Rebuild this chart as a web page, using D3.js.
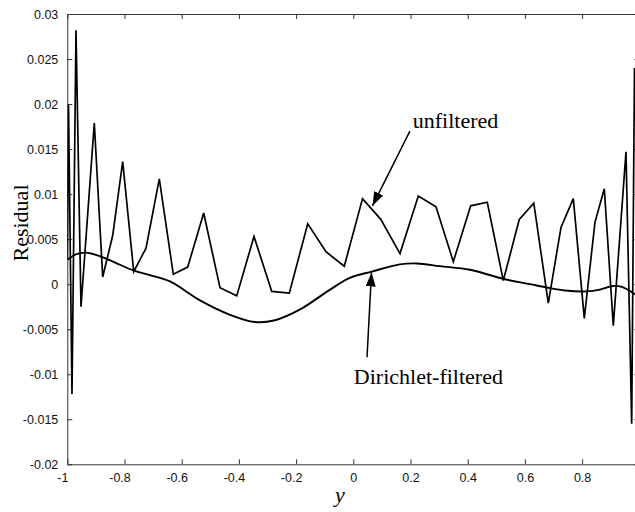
<!DOCTYPE html>
<html>
<head>
<meta charset="utf-8">
<script src="https://cdn.jsdelivr.net/npm/d3@7"></script>
<style>
    html, body { margin: 0; padding: 0; background: #fff; }
    svg { display: block; overflow: hidden; }
    .tick text { font-family: "Liberation Sans", Arial, sans-serif; font-size: 12.5px; fill: #111; }
    .serif { font-family: "Liberation Serif", "Times New Roman", serif; font-size: 22px; fill: #000; }
</style>
</head>
<body>
<div id="viz"></div>
<script>

// unfiltered residual
var unfilteredX = [-1.000, -0.9958, -0.9836, -0.9696, -0.9521, -0.9056, -0.8762, -0.8413, -0.8063, -0.7678,
    -0.7248, -0.6783, -0.6294, -0.5790, -0.5231, -0.4661, -0.4077, -0.3472, -0.2853, -0.2238,
    -0.1594, -0.0955, -0.0315, 0.0322, 0.0962, 0.1633, 0.2273, 0.2892, 0.3497, 0.4105,
    0.4685, 0.5245, 0.5804, 0.6311, 0.6818, 0.7262, 0.7692, 0.8077, 0.8451, 0.8776,
    0.9091, 0.9535, 0.9734, 0.9832, 1.000];
var unfilteredY = [0.0028, 0.0200, -0.0122, 0.0282, -0.0025, 0.0179, 0.0008, 0.0054, 0.0136, 0.0014,
    0.0040, 0.0117, 0.0011, 0.0019, 0.0079, -0.0004, -0.0013, 0.0053, -0.0008, -0.0010,
    0.0067, 0.0036, 0.0020, 0.0095, 0.0072, 0.0034, 0.0098, 0.0086, 0.0025, 0.0087,
    0.0091, 0.0004, 0.0072, 0.0090, -0.0021, 0.0063, 0.0095, -0.0038, 0.0069, 0.0106,
    -0.0046, 0.0147, -0.0155, 0.0240, 0.0028];

// Dirichlet-filtered residual
var filteredX = [-1.000, -0.970, -0.935, -0.886, -0.833, -0.767, -0.711, -0.641, -0.536, -0.431,
    -0.344, -0.274, -0.186, -0.081, -0.012, 0.065, 0.163, 0.223, 0.303, 0.408,
    0.523, 0.618, 0.681, 0.740, 0.817, 0.862, 0.908, 0.939, 0.985, 1.000];
var filteredY = [0.0027, 0.0033, 0.0035, 0.0031, 0.0024, 0.0015, 0.0010, 0.0003, -0.0018, -0.0034,
    -0.0042, -0.0040, -0.0028, -0.0006, 0.0007, 0.0014, 0.0022, 0.0023, 0.0020, 0.0016,
    0.0006, 0.0000, -0.0004, -0.0007, -0.0008, -0.0006, -0.0002, -0.0003, -0.0011, -0.0014];

var xTicks = [-1, -0.8, -0.6, -0.4, -0.2, 0, 0.2, 0.4, 0.6, 0.8];
var xTickLabels = ["-1", "-0.8", "-0.6", "-0.4", "-0.2", "0", "0.2", "0.4", "0.6", "0.8"];
var yTicks = [-0.02, -0.015, -0.01, -0.005, 0, 0.005, 0.01, 0.015, 0.02, 0.025, 0.03];
var yTickLabels = ["-0.02", "-0.015", "-0.01", "-0.005", "0", "0.005", "0.01", "0.015", "0.02", "0.025", "0.03"];

var width = 635, height = 512;
var margin = {left: 67.3, top: 14, right: -4.3, bottom: 47.7};
var w = width - margin.left - margin.right;
var h = height - margin.top - margin.bottom;

var svg = d3.select("#viz").append("svg")
    .attr("width", width)
    .attr("height", height);

var x = d3.scaleLinear().domain([-1, 1]).range([0, w]);
var y = d3.scaleLinear().domain([-0.02, 0.03]).range([h, 0]);

var g = svg.append("g").attr("transform", "translate(" + margin.left + "," + margin.top + ")");

g.append("clipPath").attr("id", "plot")
    .append("rect").attr("width", w).attr("height", h);

function styleAxis(sel) {
    sel.select(".domain").attr("stroke", "#333");
    sel.selectAll(".tick line").attr("stroke", "#333");
}

// axes with ticks pointing inwards
g.append("g")
    .attr("transform", "translate(0," + h + ")")
    .call(d3.axisBottom(x).tickValues(xTicks).tickSizeInner(-5).tickSizeOuter(0).tickPadding(9)
        .tickFormat(function(d, i){ return xTickLabels[i]; }))
    .call(styleAxis)
    .selectAll(".tick text")
        .attr("dx", function(d){ return d < 0 ? -5 : 0; });

g.append("g")
    .call(d3.axisTop(x).tickValues(xTicks).tickSizeInner(-5).tickSizeOuter(0).tickFormat(""))
    .call(styleAxis);

g.append("g")
    .call(d3.axisLeft(y).tickValues(yTicks).tickSizeInner(-5).tickSizeOuter(0).tickPadding(9)
        .tickFormat(function(d, i){ return yTickLabels[i]; }))
    .call(styleAxis);

g.append("g")
    .attr("transform", "translate(" + w + ",0)")
    .call(d3.axisRight(y).tickValues(yTicks).tickSizeInner(-5).tickSizeOuter(0).tickFormat(""))
    .call(styleAxis);

var plot = g.append("g").attr("clip-path", "url(#plot)");

var unfiltered = d3.zip(unfilteredX, unfilteredY);
var filtered = d3.zip(filteredX, filteredY);

plot.append("path")
    .datum(unfiltered)
    .attr("fill", "none")
    .attr("stroke", "#000")
    .attr("stroke-width", 1.7)
    .attr("stroke-linejoin", "miter")
    .attr("d", d3.line().x(function(d){ return x(d[0]); }).y(function(d){ return y(d[1]); }));

plot.append("path")
    .datum(filtered)
    .attr("fill", "none")
    .attr("stroke", "#000")
    .attr("stroke-width", 1.9)
    .attr("d", d3.line().curve(d3.curveCatmullRom.alpha(0.5))
        .x(function(d){ return x(d[0]); }).y(function(d){ return y(d[1]); }));

// annotation arrows
svg.append("defs").append("marker")
    .attr("id", "head")
    .attr("viewBox", "0 0 14 10")
    .attr("refX", 14).attr("refY", 5)
    .attr("markerWidth", 14).attr("markerHeight", 10)
    .attr("markerUnits", "userSpaceOnUse")
    .attr("orient", "auto")
    .append("path").attr("d", "M0,0 L14,5 L0,10 Z").attr("fill", "#000");

var arrows = [
    {from: [0.198, 0.0170], to: [0.067, 0.0087]},
    {from: [0.048, -0.0081], to: [0.0636, 0.0013]}
];

g.selectAll(".arrow").data(arrows).enter().append("line")
    .attr("class", "arrow")
    .attr("x1", function(d){ return x(d.from[0]); })
    .attr("y1", function(d){ return y(d.from[1]); })
    .attr("x2", function(d){ return x(d.to[0]); })
    .attr("y2", function(d){ return y(d.to[1]); })
    .attr("stroke", "#000")
    .attr("stroke-width", 1.5)
    .attr("marker-end", "url(#head)");

g.append("text").attr("class", "serif")
    .attr("x", x(0.208)).attr("y", y(0.0173))
    .text("unfiltered");

g.append("text").attr("class", "serif")
    .attr("x", x(0.002)).attr("y", y(-0.0111))
    .text("Dirichlet-filtered");

// axis titles
svg.append("text").attr("class", "serif")
    .attr("text-anchor", "middle")
    .attr("transform", "translate(28,223) rotate(-90)")
    .text("Residual");

svg.append("text").attr("class", "serif")
    .attr("text-anchor", "middle")
    .attr("font-style", "italic")
    .attr("x", 340).attr("y", 502)
    .text("y");

</script>
</body>
</html>
